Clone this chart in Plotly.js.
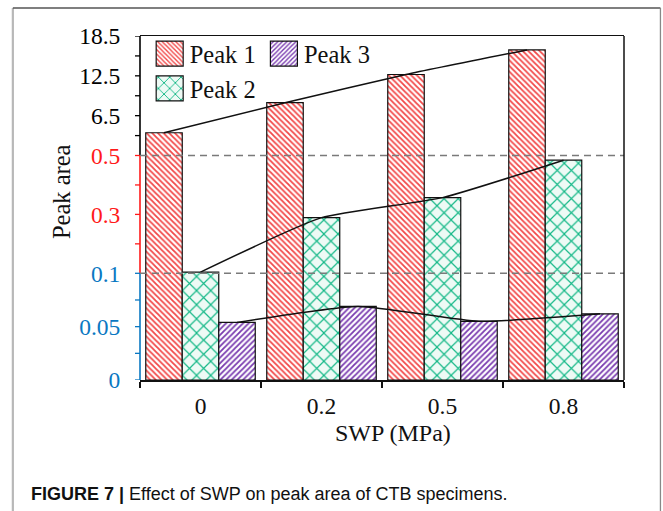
<!DOCTYPE html>
<html><head><meta charset="utf-8">
<script src="https://cdn.plot.ly/plotly-3.0.1.min.js"></script>
<style>html,body{margin:0;padding:0;background:#fff;}#chart{width:663px;height:511px;}</style>
</head><body><div id="chart"></div>
<script>
// ---- data ----
const categories = ["0", "0.2", "0.5", "0.8"];
const peak1 = [3.93, 8.45, 12.7, 16.4];
const peak2 = [0.104, 0.289, 0.357, 0.484];
const peak3 = [0.054, 0.069, 0.055, 0.062];
const seriesNames = ["Peak 1", "Peak 2", "Peak 3"];
const yTickValues = [0, 0.05, 0.1, 0.3, 0.5, 6.5, 12.5, 18.5];
const yTickLabels = ["0", "0.05", "0.1", "0.3", "0.5", "6.5", "12.5", "18.5"];
const yMinorValues = [0.025, 0.075, 0.2, 0.4, 3.5, 9.5, 15.5];
const gridValues = [0.1, 0.5];

// ---- broken (piecewise linear) y scale ----
const SEGS = [
  {lo: 0,   hi: 0.1,  p0: 0,     p1: 1,     color: "#0a78c2"},
  {lo: 0.1, hi: 0.5,  p0: 1,     p1: 2.104, color: "#ff1a1a"},
  {lo: 0.5, hi: 18.5, p0: 2.104, p1: 3.224, color: "#000000"}
];
function segOf(v) { for (const s of SEGS) { if (v <= s.hi + 1e-9) return s; } return SEGS[SEGS.length - 1]; }
function T(v) { const s = segOf(v); return s.p0 + (v - s.lo) / (s.hi - s.lo) * (s.p1 - s.p0); }

const SERIF = "Liberation Serif, Times New Roman, serif";
const bargap = 0.095;
const barW = (1 - bargap) / 3;
const idx = categories.map((c, i) => i);

const styles = [
  {pattern: {shape: "\\", fgcolor: "#f24848", bgcolor: "#ffffff", size: 4, solidity: 0.45}, legend: "legend"},
  {pattern: {shape: "x", fgcolor: "#14b887", bgcolor: "#eefaf5", size: 10, solidity: 0.22}, legend: "legend"},
  {pattern: {shape: "/", fgcolor: "#7a3cb0", bgcolor: "#ffffff", size: 4, solidity: 0.45}, legend: "legend2"}
];
const series = [peak1, peak2, peak3];

const traces = [];
series.forEach((vals, k) => {
  traces.push({
    type: "bar", name: seriesNames[k], x: categories, y: vals.map(T),
    customdata: vals, hovertemplate: "%{customdata}<extra></extra>",
    legend: styles[k].legend,
    marker: {color: styles[k].pattern.bgcolor, pattern: styles[k].pattern, line: {color: "#111", width: 1.2}}
  });
});
series.forEach((vals, k) => {
  traces.push({
    type: "scatter", mode: "lines", showlegend: false, hoverinfo: "skip",
    xaxis: "x2", yaxis: "y",
    x: idx.map(i => i + (k - 1) * barW), y: vals.map(T),
    line: {color: "#111", width: 1.5, shape: "spline", smoothing: 0.5}
  });
});

// ---- decoration shapes (axis segments, coloured ticks, dashed lines, frame) ----
const shapes = [];
SEGS.forEach(s => shapes.push({type: "line", xref: "paper", yref: "y", x0: 0, x1: 0, y0: T(s.lo), y1: T(s.hi), line: {color: s.color, width: 1.6}}));
yTickValues.concat(yMinorValues).forEach(v => shapes.push({
  type: "line", xref: "paper", yref: "y", xsizemode: "pixel", xanchor: 0, x0: -5, x1: 0, y0: T(v), y1: T(v),
  line: {color: segOf(v === 0.1 ? 0.05 : v).color, width: 1.3}
}));
gridValues.forEach(v => shapes.push({type: "line", xref: "paper", yref: "y", x0: 0, x1: 1, y0: T(v), y1: T(v), layer: "above",
  line: {color: "#7a7a7a", width: 1.5, dash: "7px,5px"}}));
shapes.push({type: "line", xref: "paper", yref: "paper", x0: 1, x1: 1, y0: 0, y1: 1, line: {color: "#111", width: 1.5}});
// outer figure frame
shapes.push({type: "line", xref: "paper", yref: "paper", x0: -0.2627, x1: -0.2627, y0: -0.40, y1: 1.0814, line: {color: "#b8b8b8", width: 2.2}});
shapes.push({type: "line", xref: "paper", yref: "paper", x0: -0.2627, x1: 1.0753, y0: 1.0814, y1: 1.0814, line: {color: "#555", width: 1.3}});
shapes.push({type: "line", xref: "paper", yref: "paper", x0: 1.0753, x1: 1.0753, y0: -0.40, y1: 1.0814, line: {color: "#888", width: 1.3}});

const tickText = yTickLabels.map((t, i) => `<span style="color:${segOf(yTickValues[i]).color}">${t}</span>`);

const layout = {
  width: 663, height: 511,
  margin: {l: 140, r: 38.5, t: 36, b: 131},
  paper_bgcolor: "#fff", plot_bgcolor: "#fff",
  barmode: "group", bargap: bargap, bargroupgap: 0,
  showlegend: true,
  xaxis: {
    type: "category", range: [-0.5, 3.5], showline: true, mirror: true, linecolor: "#111", linewidth: 1.5,
    ticks: "outside", tickson: "boundaries", ticklen: 6, tickwidth: 1.3, tickcolor: "#111",
    tickfont: {family: SERIF, size: 23.5, color: "#111"}, ticklabelstandoff: 4, showgrid: false, zeroline: false
  },
  xaxis2: {overlaying: "x", anchor: "y", range: [-0.5, 3.5], visible: false},
  yaxis: {
    range: [0, T(18.5)], showline: false, showgrid: false, zeroline: false,
    tickmode: "array", tickvals: yTickValues.map(T), ticktext: tickText,
    ticks: "outside", ticklen: 5, tickcolor: "rgba(0,0,0,0)",
    tickfont: {family: SERIF, size: 23.5, color: "#111"}, ticklabelstandoff: 9
  },
  legend: {x: 0.02, y: 1.014, xanchor: "left", yanchor: "top", bgcolor: "rgba(0,0,0,0)", borderwidth: 0,
    font: {family: SERIF, size: 24.5, color: "#111"}, itemwidth: 30, orientation: "v"},
  legend2: {x: 0.256, y: 1.014, xanchor: "left", yanchor: "top", bgcolor: "rgba(0,0,0,0)", borderwidth: 0,
    font: {family: SERIF, size: 24.5, color: "#111"}, itemwidth: 30, orientation: "v"},
  shapes: shapes,
  annotations: [
    {text: "SWP (MPa)", xref: "paper", yref: "paper", x: 0.522, y: -0.154, xanchor: "center", yanchor: "middle",
     showarrow: false, font: {family: SERIF, size: 24, color: "#111"}},
    {text: "Peak area", xref: "paper", yref: "paper", x: -0.163, y: 0.5465, xanchor: "center", yanchor: "middle",
     textangle: -90, showarrow: false, font: {family: SERIF, size: 24.5, color: "#111"}},
    {text: "<b>FIGURE 7 |</b> Effect of SWP on peak area of CTB specimens.", xref: "paper", yref: "paper",
     x: -0.2297, y: -0.331, xanchor: "left", yanchor: "middle", showarrow: false,
     font: {family: "Liberation Sans Narrow, Arial Narrow, Liberation Sans, sans-serif", size: 18, color: "#111"}}
  ]
};

Plotly.newPlot("chart", traces, layout, {displayModeBar: false, staticPlot: true}).then(gd => {
  // enlarge legend swatches to match the reference's big boxes
  gd.querySelectorAll(".legendpoints path").forEach(p => {
    p.setAttribute("d", "M13.5,12.5H-13.5V-12.5H13.5Z");
  });
});
</script>
</body></html>
